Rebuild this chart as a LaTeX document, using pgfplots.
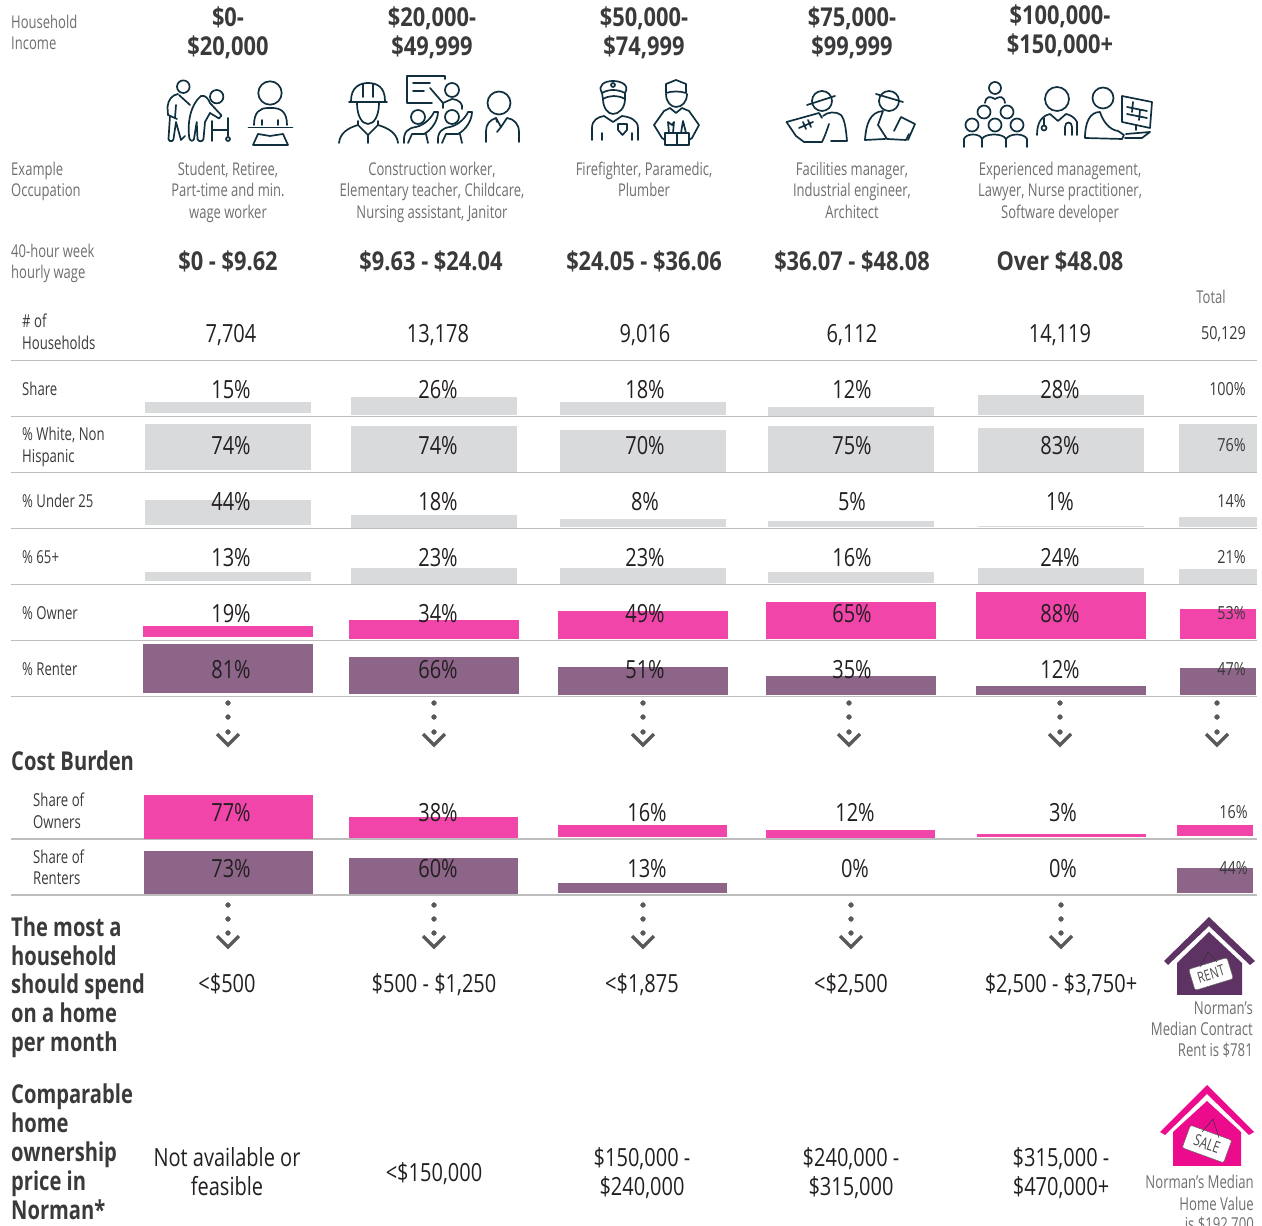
\documentclass[border=0pt]{standalone}
\usepackage{pgfplots}
\pgfplotsset{compat=1.18}
\usepackage{fontspec}
\setmainfont[FakeStretch=0.74]{Open Sans}
\newfontfamily\valf[FakeStretch=0.80]{Open Sans}
\newfontfamily\headf[FakeStretch=0.84]{Open Sans}
\newfontfamily\sidef[FakeStretch=0.775]{Open Sans}
\definecolor{greybar}{HTML}{D9DADC}
\definecolor{pinkbar}{HTML}{F145AA}
\definecolor{purpbar}{HTML}{8C6589}
\definecolor{rule}{HTML}{BDBDBD}
\definecolor{txt}{HTML}{231F20}
\definecolor{lab}{HTML}{6D6E71}
\definecolor{dark}{HTML}{3A3A3C}
\definecolor{dots}{HTML}{58595B}
\definecolor{ic}{HTML}{10303F}
\definecolor{rentc}{HTML}{5F3264}
\definecolor{salec}{HTML}{EC0B8C}
\newcommand\Bar[5]{\addplot[fill=#5,draw=none] coordinates {(#1,#3)(#2,#3)(#2,#4)(#1,#4)} --cycle;}
\newcommand\HR[1]{\addplot[draw=rule,line width=1.2pt] coordinates {(11,#1)(1257,#1)};}
\newcommand\Val[3]{\node[anchor=base,inner sep=0pt,yshift=-9pt,font=\valf\fontsize{25}{25}\selectfont,text=txt] at (axis cs:#1,#2) {#3};}
\newcommand\Tot[3]{\node[anchor=base east,inner sep=0pt,yshift=-6.5pt,font=\valf\fontsize{18}{18}\selectfont,text=dark] at (axis cs:#1,#2) {#3};}
\newcommand\Lab[3]{\node[anchor=base west,inner sep=0pt,yshift=-6.5pt,font=\fontsize{17.6}{18}\selectfont,text=lab] at (axis cs:#1,#2) {#3};}
\newcommand\Row[3]{\node[anchor=base west,inner sep=0pt,yshift=-6.5pt,font=\fontsize{17.8}{18}\selectfont,text=dark] at (axis cs:#1,#2) {#3};}
\newcommand\Cen[3]{\node[anchor=base,inner sep=0pt,yshift=-6.5pt,font=\fontsize{17.6}{18}\selectfont,text=lab] at (axis cs:#1,#2) {#3};}
\newcommand\RLab[3]{\node[anchor=base east,inner sep=0pt,yshift=-6.5pt,font=\fontsize{17.8}{18}\selectfont,text=lab] at (axis cs:#1,#2) {#3};}
\newcommand\Head[3]{\node[anchor=base,inner sep=0pt,yshift=-9.5pt,font=\headf\fontsize{26}{26}\selectfont\bfseries,text=dark] at (axis cs:#1,#2) {#3};}
\newcommand\Side[3]{\node[anchor=base west,inner sep=0pt,yshift=-9.5pt,font=\sidef\fontsize{26}{26}\selectfont\bfseries,text=dark] at (axis cs:#1,#2) {#3};}
\newcommand\Chev[2]{\addplot[draw=dots,line width=3.4pt] coordinates {(#1-11,#2)(#1,#2+11)(#1+11,#2)};}
\begin{document}
\begin{tikzpicture}
\path[use as bounding box,clip] (0,0) rectangle (1262pt,1226pt);
\begin{axis}[at={(0,0)},anchor=south west,scale only axis,width=1262pt,height=1226pt,
  xmin=0,xmax=1262,ymin=0,ymax=1226,y dir=reverse,hide axis,clip=false]
% rules
\HR{360.3}\HR{416.3}\HR{472.3}\HR{528.3}\HR{584.3}\HR{640.3}\HR{696.3}\HR{839}\HR{895}
% Share
\Bar{145}{311}{402}{413}{greybar}
\Bar{351}{517}{397}{415}{greybar}
\Bar{560}{726}{402}{415}{greybar}
\Bar{768}{934}{407}{416}{greybar}
\Bar{978}{1144}{395}{415}{greybar}
% White
\Bar{145}{311}{424}{470}{greybar}
\Bar{351}{517}{426}{472}{greybar}
\Bar{560}{726}{430}{472}{greybar}
\Bar{768}{934}{426}{472}{greybar}
\Bar{978}{1144}{428}{472}{greybar}
\Bar{1179}{1257}{424}{472}{greybar}
% Under 25
\Bar{145}{311}{500}{525}{greybar}
\Bar{351}{517}{515}{528}{greybar}
\Bar{560}{726}{519}{527}{greybar}
\Bar{768}{934}{521}{527}{greybar}
\Bar{978}{1144}{526}{527}{greybar}
\Bar{1179}{1257}{517}{527}{greybar}
% 65+
\Bar{145}{311}{572}{581}{greybar}
\Bar{351}{517}{568}{584}{greybar}
\Bar{560}{726}{568}{584}{greybar}
\Bar{768}{934}{572}{583}{greybar}
\Bar{978}{1144}{568}{584}{greybar}
\Bar{1179}{1257}{569}{584}{greybar}
% Owner
\Bar{143}{313}{626}{637}{pinkbar}
\Bar{349}{519}{620}{639}{pinkbar}
\Bar{558}{728}{611}{639}{pinkbar}
\Bar{766}{936}{602}{639}{pinkbar}
\Bar{976}{1146}{592}{639}{pinkbar}
\Bar{1180}{1256}{609}{639}{pinkbar}
% Renter
\Bar{143}{313}{644}{693}{purpbar}
\Bar{349}{519}{657}{694}{purpbar}
\Bar{558}{728}{667}{695}{purpbar}
\Bar{766}{936}{676}{695}{purpbar}
\Bar{976}{1146}{686}{695}{purpbar}
\Bar{1180}{1256}{668}{695}{purpbar}
% Cost burden owners
\Bar{144}{313}{795}{839}{pinkbar}
\Bar{349}{518}{817}{838}{pinkbar}
\Bar{558}{727}{825}{837}{pinkbar}
\Bar{766}{935}{830}{838}{pinkbar}
\Bar{977}{1146}{834}{837}{pinkbar}
\Bar{1177}{1253}{825}{836}{pinkbar}
% Cost burden renters
\Bar{144}{313}{851}{894}{purpbar}
\Bar{349}{518}{858}{894}{purpbar}
\Bar{558}{727}{883}{893}{purpbar}
\Bar{1177}{1253}{868}{893}{purpbar}
% dots and chevrons
\addplot[only marks,mark=*,mark size=2.4pt,color=dots] coordinates {
 (228,703)(228,717)(228,732)(434,703)(434,717)(434,732)(643,703)(643,717)(643,732)
 (849,703)(849,717)(849,732)(1060,703)(1060,717)(1060,732)(1217,703)(1217,717)(1217,732)
 (228,905)(228,919)(228,933)(434,905)(434,919)(434,933)(643,905)(643,919)(643,933)
 (851,905)(851,919)(851,933)(1061,905)(1061,919)(1061,933)};
\Chev{228}{734}\Chev{434}{734}\Chev{643}{734}\Chev{849}{734}\Chev{1060}{734}\Chev{1217}{734}
\Chev{228}{936}\Chev{434}{936}\Chev{643}{936}\Chev{851}{936}\Chev{1061}{936}
% header
\Lab{11}{22}{Household}\Lab{11}{43}{Income}
\Head{228}{17}{\$0-}\Head{228}{46}{\$20,000}
\Head{432}{17}{\$20,000-}\Head{432}{46}{\$49,999}
\Head{644}{17}{\$50,000-}\Head{644}{46}{\$74,999}
\Head{852}{17}{\$75,000-}\Head{852}{46}{\$99,999}
\Head{1060}{15}{\$100,000-}\Head{1060}{44}{\$150,000+}
\Lab{11}{169}{Example}\Lab{11}{190}{Occupation}
\Cen{228}{169}{Student, Retiree,}\Cen{228}{190}{Part-time and min.}\Cen{228}{212}{wage worker}
\Cen{432}{169}{Construction worker,}\Cen{432}{190}{Elementary teacher, Childcare,}\Cen{432}{212}{Nursing assistant, Janitor}
\Cen{644}{169}{Firefighter, Paramedic,}\Cen{644}{190}{Plumber}
\Cen{852}{169}{Facilities manager,}\Cen{852}{190}{Industrial engineer,}\Cen{852}{212}{Architect}
\Cen{1060}{169}{Experienced management,}\Cen{1060}{190}{Lawyer, Nurse practitioner,}\Cen{1060}{212}{Software developer}
\Lab{11}{251}{40-hour week}\Lab{11}{272}{hourly wage}
\Head{228}{261}{\$0 - \$9.62}\Head{431}{261}{\$9.63 - \$24.04}\Head{644}{261}{\$24.05 - \$36.06}\Head{852}{261}{\$36.07 - \$48.08}\Head{1060}{261}{Over \$48.08}
\node[anchor=base,inner sep=0pt,yshift=-6.5pt,font=\fontsize{17.6}{18}\selectfont,text=lab] at (axis cs:1211,297) {Total};
% rows
\Row{22}{321}{\# of}\Row{22}{343}{Households}
\Val{231}{333}{7,704}\Val{438}{333}{13,178}\Val{645}{333}{9,016}\Val{852}{333}{6,112}\Val{1060}{333}{14,119}\Tot{1246}{333}{50,129}
\Row{22}{389}{Share}
\Val{231}{389}{15\%}\Val{438}{389}{26\%}\Val{645}{389}{18\%}\Val{852}{389}{12\%}\Val{1060}{389}{28\%}\Tot{1246}{389}{100\%}
\Row{22}{434}{\% White, Non}\Row{22}{456}{Hispanic}
\Val{231}{445}{74\%}\Val{438}{445}{74\%}\Val{645}{445}{70\%}\Val{852}{445}{75\%}\Val{1060}{445}{83\%}\Tot{1246}{445}{76\%}
\Row{22}{501}{\% Under 25}
\Val{231}{501}{44\%}\Val{438}{501}{18\%}\Val{645}{501}{8\%}\Val{852}{501}{5\%}\Val{1060}{501}{1\%}\Tot{1246}{501}{14\%}
\Row{22}{557}{\% 65+}
\Val{231}{557}{13\%}\Val{438}{557}{23\%}\Val{645}{557}{23\%}\Val{852}{557}{16\%}\Val{1060}{557}{24\%}\Tot{1246}{557}{21\%}
\Row{22}{613}{\% Owner}
\Val{231}{613}{19\%}\Val{438}{613}{34\%}\Val{645}{613}{49\%}\Val{852}{613}{65\%}\Val{1060}{613}{88\%}\Tot{1246}{613}{53\%}
\Row{22}{669}{\% Renter}
\Val{231}{669}{81\%}\Val{438}{669}{66\%}\Val{645}{669}{51\%}\Val{852}{669}{35\%}\Val{1060}{669}{12\%}\Tot{1246}{669}{47\%}
\Side{11}{761}{Cost Burden}
\Row{33}{800}{Share of}\Row{33}{822}{Owners}
\Val{231}{812}{77\%}\Val{438}{812}{38\%}\Val{647}{812}{16\%}\Val{855}{812}{12\%}\Val{1063}{812}{3\%}\Tot{1248}{812}{16\%}
\Row{33}{857}{Share of}\Row{33}{878}{Renters}
\Val{231}{868}{73\%}\Val{438}{868}{60\%}\Val{647}{868}{13\%}\Val{855}{868}{0\%}\Val{1063}{868}{0\%}\Tot{1248}{868}{44\%}
\Side{11}{927}{The most a}\Side{11}{956}{household}\Side{11}{984}{should spend}\Side{11}{1013}{on a home}\Side{11}{1042}{per month}
\Val{227}{983}{<\$500}\Val{434}{983}{\$500 - \$1,250}\Val{642}{983}{<\$1,875}\Val{851}{983}{<\$2,500}\Val{1061}{983}{\$2,500 - \$3,750+}
\Side{11}{1094}{Comparable}\Side{11}{1123}{home}\Side{11}{1152}{ownership}\Side{11}{1181}{price in}\Side{11}{1210}{Norman*}
\Val{227}{1157}{Not available or}\Val{227}{1186}{feasible}\Val{434}{1172}{<\$150,000}
\Val{642}{1157}{\$150,000 -}\Val{642}{1186}{\$240,000}
\Val{851}{1157}{\$240,000 -}\Val{851}{1186}{\$315,000}
\Val{1061}{1157}{\$315,000 -}\Val{1061}{1186}{\$470,000+}
\RLab{1253}{1008}{Norman’s}\RLab{1253}{1029}{Median Contract}\RLab{1253}{1050}{Rent is \$781}
\RLab{1254}{1182}{Norman’s Median}\RLab{1254}{1204}{Home Value}\RLab{1254}{1224}{is \$192,700}
\end{axis}
\begin{scope}[x=1pt,y=-1pt,shift={(0pt,1226pt)},draw=ic,line width=1.7pt,line cap=round,line join=round]
% icon 1
\draw (183.3,86.7) circle (6.3);
\draw (178,94) .. controls (172,95) and (168,100) .. (167.5,107) -- (168,115) -- (177,119) (176,105) -- (175,118);
\draw (179,95) -- (190,105);
\draw (170,116) -- (168.5,139) .. controls (169,142) and (173,142) .. (173.5,139) -- (176,122) -- (181,140) -- (185,136);
\draw (189.3,138) .. controls (187,122) and (191,104) .. (201,96) .. controls (205,95) and (208,98) .. (210,103) -- (221.5,115.5) -- (219,118.5) -- (210,113) -- (205,122) -- (203.5,139) .. controls (203,142) and (198,142) .. (197.5,139) -- (196.7,122) -- (194,139) .. controls (193,142) and (190,141) .. (189.3,138);
\draw (216.7,96.7) circle (6.7);
\draw (211.7,141) -- (211.7,121) (228,118) -- (228,136) (211.7,130) -- (228,130);
\draw (228,139) circle (2);
% icon 2
\draw (270,93) circle (11.7);
\draw (254,125) .. controls (254,112) and (260,108) .. (268,108) -- (272,108) .. controls (281,108) and (287,112) .. (287,125);
\draw (248.5,127.5) -- (292.5,127.5);
\draw (262,120) -- (262,125) (278,120) -- (278,125);
\draw (258,134) -- (270,136) -- (283,134) -- (288,145) -- (253,145) -- cycle;
% icon 3
\draw (351,101) .. controls (351,87) and (360,83) .. (368,83) .. controls (377,83) and (385,87) .. (385,101);
\draw (349,102) -- (387,102) (363,84) -- (363,97) (373,84) -- (373,97);
\draw (357,103) .. controls (357,116) and (362,124) .. (368,124) .. controls (374,124) and (379,116) .. (379,103);
\draw (339,143) .. controls (340,133) and (348,128) .. (358,125) -- (358,121) (358,125) -- (368,135) -- (378,125) -- (378,121) (378,125) .. controls (388,128) and (397,133) .. (398,143);
\draw (368,135) -- (368,143);
% icon 4
\draw (445,79) -- (445,76) -- (407,76) -- (407,103) -- (432,103);
\draw (413,83) -- (430,83) (413,91) -- (424,91);
\draw (452,90) circle (7);
\draw (430,88) -- (443,103) -- (452,99) .. controls (460,100) and (463,104) .. (462,109);
\draw (443,103) -- (443,108);
\draw (418,117) circle (7) (452,117) circle (7);
\draw (404,143) .. controls (403,132) and (408,128) .. (416,127) .. controls (425,125) and (432,117) .. (434,112) -- (438,112) .. controls (438,120) and (432,130) .. (424,134) -- (412,134) -- (408,143);
\draw (438,143) .. controls (437,132) and (442,128) .. (450,127) .. controls (459,125) and (466,117) .. (468,112) -- (472,112) .. controls (472,120) and (466,130) .. (458,134) -- (446,134) -- (442,143);
\draw (426,134) -- (428,143) (460,134) -- (462,143);
% icon 5
\draw (499,103) circle (11.5);
\draw (486,142) -- (486,131) .. controls (486,124) and (490,120) .. (496,118) -- (501,127) -- (507,118) .. controls (514,119) and (519,124) .. (519,132) -- (519,142);
\draw (496,118) -- (497,122) (501,127) -- (497,132);
% icon 6 firefighter
\draw (603,99) .. controls (603,108) and (608,114) .. (613,114) .. controls (619,114) and (625,108) .. (625,99);
\draw (602,93) .. controls (597,85) and (605,81) .. (613,81) .. controls (621,81) and (630,85) .. (625,93) .. controls (617,89) and (609,89) .. (602,93);
\draw (602,93) -- (603,99) .. controls (610,95) and (618,95) .. (625,99) -- (625,93);
\draw (613,85) circle (2);
\draw (592,140) -- (592,128) .. controls (592,120) and (598,117) .. (604,116) -- (613,122) -- (622,116) .. controls (630,117) and (638,120) .. (638,128) -- (638,140);
\draw (602,133) -- (602,140) (632,133) -- (632,140);
\draw (618,124) -- (627,124) -- (627,130) -- (622.5,135) -- (618,130) -- cycle;
% icon 7 plumber
\draw (666,94) .. controls (666,102) and (671,107) .. (676,107) .. controls (682,107) and (687,102) .. (687,94);
\draw (666,93) -- (666,84) -- (676,80) -- (686,84) -- (686,93) .. controls (680,91) and (672,91) .. (666,93);
\draw (654,125) -- (664,111) -- (670,108) -- (676,113) -- (682,108) -- (689,111) -- (699,125) -- (692,138) -- (689,140);
\draw (654,125) -- (662,138) -- (665,140);
\draw (665,133) -- (689,133) -- (689,145) -- (665,145) -- cycle (677,133) -- (677,145);
\draw (669,133) -- (668,122) -- (672,125) -- (674,122) -- (673,133);
\draw (681,133) -- (683,121) -- (686,133);
% icon 8 facilities
\draw (822,101) circle (10);
\draw (807,105) -- (835,96);
\draw (786.5,122) -- (819,113) -- (822,118) (786.5,122) -- (796,136);
\draw (799,128) -- (813,122) (803,122) -- (806,129) (808,120) -- (811,127);
\draw (796,136) -- (804,142) -- (822,142) .. controls (825,136) and (827,130) .. (829,124);
\draw (823,116) .. controls (827,112) and (836,111) .. (841,115) .. controls (845,120) and (846,130) .. (847,141) -- (831,141);
% icon 9 engineer
\draw (889,101) circle (10);
\draw (876,94) -- (903,102);
\draw (865,140) .. controls (866,124) and (870,112) .. (883,111) -- (878,125);
\draw (865,140) -- (885,139) (878,125) -- (887,139) -- (906,140) -- (909,134);
\draw (901,117) -- (915,124) -- (908,140) (901,117) -- (894,131);
% icon 10 pyramid
\draw (995,88) circle (6) (984,112) circle (6.5) (1007,112) circle (6.5) (972,125) circle (6.5) (995,125) circle (6.5) (1017,125) circle (6.5);
\draw (985,103) .. controls (986,96) and (990,96) .. (995,99) .. controls (1000,96) and (1004,96) .. (1005,103);
\draw (964,147) -- (964,139) .. controls (966,133) and (980,133) .. (982,139) -- (982,147) (982,139) .. controls (985,133) and (1003,133) .. (1006,139) -- (1006,147) (1006,139) .. controls (1010,133) and (1024,133) .. (1027,139) -- (1027,147);
% icon 11 doctor
\draw (1057,99) circle (12);
\draw (1037,135) .. controls (1037,122) and (1042,116) .. (1050,114) -- (1058,121) -- (1066,114) .. controls (1071,115) and (1075,118) .. (1077,122) -- (1077,135);
\draw (1044,118) -- (1044,125) (1044,128) circle (2.5) (1065,135) -- (1065,127) .. controls (1065,121) and (1072,121) .. (1072,127) -- (1072,135);
% icon 12 IT
\draw (1103,98) circle (10.5);
\draw (1085,138) .. controls (1085,122) and (1090,112) .. (1100,112) .. controls (1103,122) and (1110,130) .. (1118,131) -- (1124,135) -- (1122,139) -- (1085,138);
\draw (1122,96) -- (1152,102) -- (1150,128) -- (1122,122) -- cycle;
\draw (1127,107) -- (1147,111) (1127,114) -- (1147,118) (1133,102) -- (1132,112) (1140,110) -- (1139,120) (1136,125) -- (1136,130) (1126,134) -- (1150,132) -- (1142,138) -- (1125,138);
% rent house
\fill[rentc] (1209,917) -- (1255,961) -- (1250,965) -- (1209,926) -- (1168,965) -- (1164,961) -- cycle;
\fill[rentc] (1209,932) -- (1242,963) -- (1242,995) -- (1177,995) -- (1177,963) -- cycle;
\begin{scope}[shift={(1211,974)},rotate=17]
\fill[white,draw=black!60,line width=.5pt,rounded corners=2pt] (-20,-11) rectangle (20,11);
\end{scope}
\node[inner sep=0pt,text=black!70,font=\fontsize{15}{15}\selectfont,rotate=17] at (1211,974) {RENT};
\draw[black!80,line width=.5pt] (1200,967) -- (1208,952) -- (1217,962);
% sale house
\fill[salec] (1207,1085) -- (1254,1132) -- (1249,1135) -- (1207,1094) -- (1165,1135) -- (1160,1132) -- cycle;
\fill[salec] (1207,1101) -- (1241,1132) -- (1241,1166) -- (1173,1166) -- (1173,1132) -- cycle;
\begin{scope}[shift={(1207,1144)},rotate=-20]
\fill[white,draw=black!60,line width=.5pt,rounded corners=2pt] (-22,-12) rectangle (22,12);
\end{scope}
\node[inner sep=0pt,text=black!70,font=\fontsize{16}{16}\selectfont,rotate=-20] at (1207,1144) {SALE};
\draw[black!80,line width=.5pt] (1202,1132) -- (1213,1119) -- (1219,1138);
\end{scope}
\end{tikzpicture}
\end{document}
